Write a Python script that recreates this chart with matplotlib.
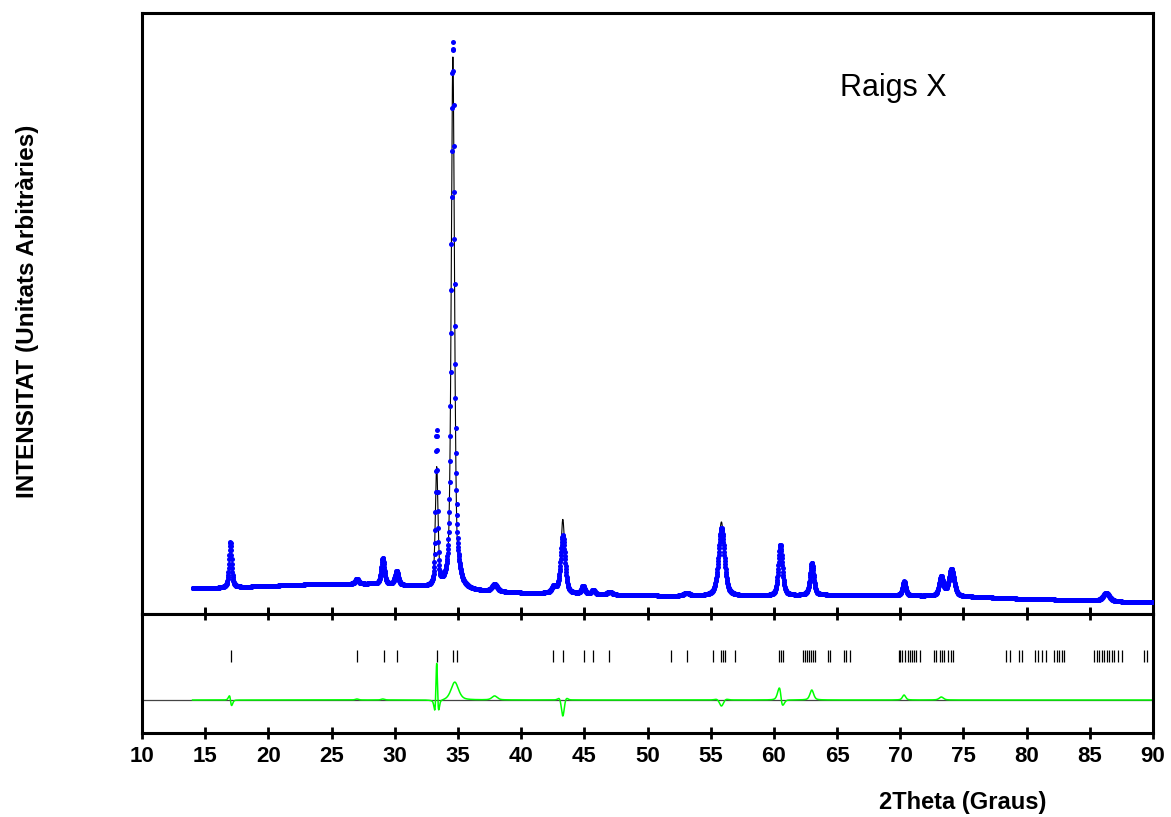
import numpy as np
import matplotlib
matplotlib.use("Agg")
import matplotlib.pyplot as plt

plt.rcParams['font.family'] = ['Liberation Sans', 'DejaVu Sans']

# background (2theta, intensity)
bg_x = [14, 16, 18, 20, 22, 24, 26, 28, 30, 32, 34, 36, 38, 40, 44, 48, 52, 56, 60, 64, 68, 72, 76, 80, 84, 88, 90]
bg_y = [26, 26, 27, 28, 29, 30, 30, 30, 29, 27, 25, 23, 22, 21, 20, 19, 18, 18, 18, 19, 19, 18, 17, 15, 14, 12, 12]

# observed peaks: position, height above background, fwhm
obs_pos = [17.0, 27.0, 29.05, 30.15, 33.32, 34.6, 34.75, 37.9, 42.6, 43.3, 44.9, 45.7, 47.0, 53.1,
           55.85, 60.52, 63.0, 70.3, 73.25, 74.05, 86.3]
obs_h = [45, 5, 26, 14, 154, 532, 18, 7, 6, 58, 8, 4, 3, 3, 68, 51, 32, 14, 19, 27, 8]
obs_w = [0.25, 0.3, 0.3, 0.3, 0.19, 0.3, 0.7, 0.5, 0.4, 0.42, 0.3, 0.3, 0.4, 0.5,
         0.55, 0.38, 0.35, 0.3, 0.4, 0.5, 0.6]

# calculated peaks
calc_pos = [17.02, 27.0, 29.05, 30.15, 33.32, 34.6, 37.9, 42.6, 43.3, 44.9, 45.7, 47.0, 53.1,
            55.85, 60.57, 63.0, 70.3, 73.25, 74.05, 86.3]
calc_h = [46, 4, 25, 14, 118, 532, 3, 6, 74, 8, 4, 3, 3, 74, 46, 22, 9, 16, 27, 8]
calc_w = [0.25, 0.3, 0.3, 0.3, 0.25, 0.3, 0.5, 0.4, 0.36, 0.3, 0.3, 0.4, 0.5,
          0.52, 0.38, 0.35, 0.3, 0.4, 0.5, 0.6]

# Bragg reflection positions
bragg = [17.03, 27.02, 29.15, 30.18, 33.34, 34.64, 34.93, 42.54, 43.33, 44.97, 45.71, 46.94,
         51.87, 53.16, 55.16, 55.78, 55.94, 56.1, 56.96, 60.43, 60.57, 60.70,
         62.33, 62.46, 62.63, 62.79, 62.95, 63.11, 63.24, 64.26, 64.45, 65.57, 65.73, 66.0,
         69.88, 70.01, 70.12, 70.41, 70.58, 70.74, 70.9, 71.06, 71.22, 71.59,
         72.64, 72.8, 73.14, 73.31, 73.47, 73.81, 74.03, 74.19,
         78.39, 78.68, 79.43, 79.62, 80.66, 80.93, 81.22, 81.52, 82.19, 82.37, 82.59, 82.80, 82.96,
         85.32, 85.53, 85.72, 85.94, 86.12, 86.36, 86.55, 86.76, 86.92, 87.27, 87.51, 89.28, 89.55]


def profile(tt, pos, h, w):
    out = np.interp(tt, bg_x, bg_y).astype(float)
    for p, a, f in zip(pos, h, w):
        g = np.exp(-4 * np.log(2) * ((tt - p) / f) ** 2)
        l = 1 / (1 + 4 * ((tt - p) / f) ** 2)
        out += a * (0.5 * g + 0.5 * l)
    return out


tt = np.arange(14.0, 90.0, 0.02)
yobs = profile(tt, obs_pos, obs_h, obs_w)
ycalc = profile(tt, calc_pos, calc_h, calc_w)
diff = yobs - ycalc

fig = plt.figure(figsize=(11.71, 8.17), dpi=100)
ax1 = fig.add_axes([142 / 1171, 1 - 614 / 817, 1011 / 1171, 601 / 817])
ax2 = fig.add_axes([142 / 1171, 1 - 733 / 817, 1011 / 1171, 119 / 817])

ax1.plot(tt, ycalc, color='black', lw=0.8, zorder=2)
ax1.plot(tt, yobs, 'o', color='#0000ff', ms=3.6, mew=0, zorder=3)
ax1.set_xlim(10, 90)
ax1.set_ylim(0, 601)
ax1.set_yticks([])
ax1.set_xticks(range(10, 95, 5))
ax1.tick_params(axis='x', direction='in', length=5, width=2, labelbottom=False)

ax2.axhline(0, color='#444444', lw=0.9, zorder=1)
ax2.plot(tt, diff, color='#00ff00', lw=1.1, zorder=2)
ax2.vlines(bragg, 38, 50, color='black', lw=0.9)
ax2.set_xlim(10, 90)
ax2.set_ylim(-33, 86)
ax2.set_yticks([])
ax2.set_xticks(range(10, 95, 5))
ax2.tick_params(axis='x', top=True, direction='inout', length=9, width=2, pad=5, labelsize=16)
for lab in ax2.get_xticklabels():
    lab.set_fontweight('bold')

for ax in (ax1, ax2):
    for s in ax.spines.values():
        s.set_linewidth(2.2)

fig.text(28 / 1171, 1 - 311 / 817, 'INTENSITAT (Unitats Arbitràries)', rotation=90,
         ha='center', va='center', fontsize=17.5, fontweight='bold')
fig.text(963 / 1171, 1 - 803 / 817, '2Theta (Graus)', ha='center', va='center',
         fontsize=17, fontweight='bold')
fig.text(840 / 1171, 1 - 88 / 817, 'Raigs X', ha='left', va='center', fontsize=22)

fig.savefig('out.png', dpi=100)
